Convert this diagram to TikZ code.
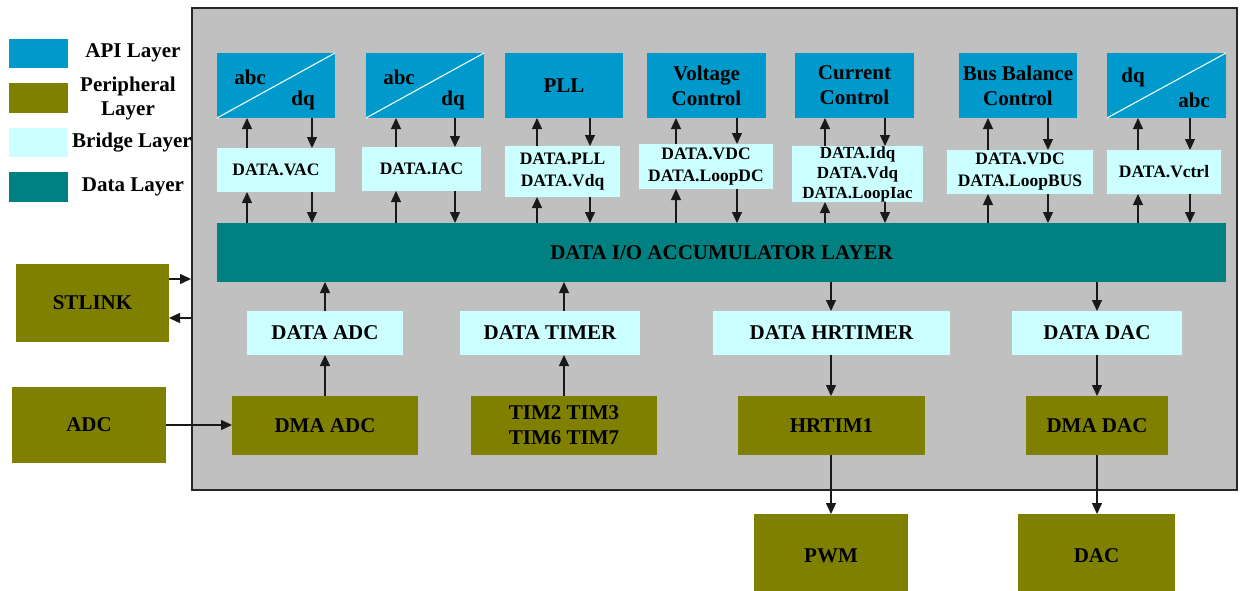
\documentclass[tikz,border=0pt]{standalone}
\usepackage{fontspec}
\setmainfont{Liberation Serif}
\usetikzlibrary{arrows.meta}
\definecolor{apiblue}{HTML}{0099CC}
\definecolor{periph}{HTML}{808000}
\definecolor{bridge}{HTML}{CCFFFF}
\definecolor{datal}{HTML}{008080}
\definecolor{boardgray}{HTML}{C0C0C0}
\definecolor{diagline}{HTML}{E2F6FF}
\begin{document}
\begin{tikzpicture}[x=1pt,y=-1pt,
  big/.style={font=\bfseries\fontsize{21}{25}\selectfont},
  small/.style={font=\bfseries\fontsize{17.5}{22}\selectfont},
  blk/.style={inner sep=0pt, outer sep=0pt, align=center, draw=none},
  api/.style={blk, big, fill=apiblue},
  periphbox/.style={blk, big, fill=periph},
  bridgebox/.style={blk, small, fill=bridge},
  bridgebig/.style={blk, big, fill=bridge},
  databox/.style={blk, big, fill=datal},
  txt/.style={inner sep=0pt, big},
  diag/.style={draw=diagline, line width=1.2pt},
  arr/.style={-{Triangle[length=11pt,width=10pt]}, line width=1.3pt, draw=black!90}]
\useasboundingbox (0,0) rectangle (1245,590);
\clip (0,0) rectangle (1245,590);

% main board
\node[draw=black!85, line width=2pt, fill=boardgray, minimum width=1045pt, minimum height=482pt, inner sep=0pt] (board) at (714.5,249) {};

% legend
\node[blk, fill=apiblue, minimum width=59pt, minimum height=29pt] (lg1) at (38.5,53.5) {};
\node[blk, fill=periph, minimum width=59pt, minimum height=30pt] (lg2) at (38.5,98) {};
\node[blk, fill=bridge, minimum width=59pt, minimum height=29pt] (lg3) at (38.5,142.5) {};
\node[blk, fill=datal, minimum width=59pt, minimum height=30pt] (lg4) at (38.5,187) {};
\node[txt] (lt1) at (133,53) {API Layer};
\node[txt, align=center, font=\bfseries\fontsize{21}{24}\selectfont] (lt2) at (128,98) {Peripheral\\Layer};
\node[txt] (lt3) at (132,143) {Bridge Layer};
\node[txt] (lt4) at (133,187) {Data Layer};

% API layer
\node[api, minimum width=118pt, minimum height=65pt] (a1) at (276,85.5) {};
\node[api, minimum width=118pt, minimum height=65pt] (a2) at (425,85.5) {};
\node[api, minimum width=118pt, minimum height=65pt] (a3) at (564,85.5) {PLL};
\node[api, minimum width=119pt, minimum height=65pt] (a4) at (706.5,85.5) {Voltage\\Control};
\node[api, minimum width=119pt, minimum height=65pt] (a5) at (854.5,85.5) {Current\\Control};
\node[api, minimum width=118pt, minimum height=65pt] (a6) at (1018,85.5) {Bus Balance\\Control};
\node[api, minimum width=119pt, minimum height=65pt] (a7) at (1166.5,85.5) {};
\draw[diag] (a1.south west) -- (a1.north east);
\draw[diag] (a2.south west) -- (a2.north east);
\draw[diag] (a7.south west) -- (a7.north east);
\node[txt] (a1x) at (250,77) {abc};
\node[txt] (a1y) at (303,100) {dq};
\node[txt] (a2x) at (399,77) {abc};
\node[txt] (a2y) at (453,100) {dq};
\node[txt] (a7x) at (1133,77) {dq};
\node[txt] (a7y) at (1194,100) {abc};

% bridge layer (upper)
\node[bridgebox, minimum width=118pt, minimum height=44pt] (b1) at (276,170) {DATA.VAC};
\node[bridgebox, minimum width=119pt, minimum height=44pt] (b2) at (421.5,169) {DATA.IAC};
\node[bridgebox, minimum width=115pt, minimum height=51pt] (b3) at (562.5,171.5) {DATA.PLL\\DATA.Vdq};
\node[bridgebox, minimum width=134pt, minimum height=45pt] (b4) at (706,166.5) {DATA.VDC\\DATA.LoopDC};
\node[bridgebox, minimum width=131pt, minimum height=56pt, font=\bfseries\fontsize{17}{20}\selectfont] (b5) at (857.5,174) {DATA.Idq\\DATA.Vdq\\DATA.LoopIac};
\node[bridgebox, minimum width=146pt, minimum height=44pt] (b6) at (1020,172) {DATA.VDC\\DATA.LoopBUS};
\node[bridgebox, minimum width=114pt, minimum height=44pt] (b7) at (1164,172) {DATA.Vctrl};

% data layer
\node[databox, minimum width=1009pt, minimum height=59pt] (dl) at (721.5,252.5) {DATA I/O ACCUMULATOR LAYER};

% bridge layer (lower)
\node[bridgebig, minimum width=156pt, minimum height=44pt] (d1) at (325,333) {DATA ADC};
\node[bridgebig, minimum width=180pt, minimum height=44pt] (d2) at (550,333) {DATA TIMER};
\node[bridgebig, minimum width=237pt, minimum height=44pt] (d3) at (831.5,333) {DATA HRTIMER};
\node[bridgebig, minimum width=170pt, minimum height=44pt] (d4) at (1097,333) {DATA DAC};

% peripheral layer (on board)
\node[periphbox, minimum width=186pt, minimum height=59pt] (p1) at (325,425.5) {DMA ADC};
\node[periphbox, minimum width=186pt, minimum height=59pt] (p2) at (564,425.5) {TIM2 TIM3\\TIM6 TIM7};
\node[periphbox, minimum width=187pt, minimum height=59pt] (p3) at (831.5,425.5) {HRTIM1};
\node[periphbox, minimum width=142pt, minimum height=59pt] (p4) at (1097,425.5) {DMA DAC};

% peripherals outside the board
\node[periphbox, minimum width=153pt, minimum height=78pt] (stl) at (92.5,303) {STLINK};
\node[periphbox, minimum width=154pt, minimum height=76pt] (adc) at (89,425) {ADC};
\node[periphbox, minimum width=154pt, minimum height=84pt] (pwm) at (831,556) {PWM};
\node[periphbox, minimum width=157pt, minimum height=84pt] (dac) at (1096.5,556) {DAC};

% API <-> bridge <-> data links
\foreach \i/\u/\d in {1/247/312, 2/396/455, 3/537/590, 4/676/737, 5/825/885, 6/988/1048, 7/1138/1190} {
  \coordinate (up\i) at (\u,0);
  \coordinate (dn\i) at (\d,0);
  \draw[arr] (b\i.north -| up\i) -- (a\i.south -| up\i);
  \draw[arr] (a\i.south -| dn\i) -- (b\i.north -| dn\i);
  \draw[arr] (dl.north -| up\i) -- (b\i.south -| up\i);
  \draw[arr] (b\i.south -| dn\i) -- (dl.north -| dn\i);
}

% input path
\coordinate (cadc) at (325,0);
\coordinate (ctim) at (564,0);
\draw[arr] (p1.north -| cadc) -- (d1.south -| cadc);
\draw[arr] (d1.north -| cadc) -- (dl.south -| cadc);
\draw[arr] (p2.north -| ctim) -- (d2.south -| ctim);
\draw[arr] (d2.north -| ctim) -- (dl.south -| ctim);
\draw[arr] (adc.east) -- (p1.west |- adc.east);

% output path
\coordinate (chr) at (831,0);
\coordinate (cdac) at (1097,0);
\draw[arr] (dl.south -| chr) -- (d3.north -| chr);
\draw[arr] (d3.south -| chr) -- (p3.north -| chr);
\draw[arr] (p3.south -| chr) -- (pwm.north -| chr);
\draw[arr] (dl.south -| cdac) -- (d4.north -| cdac);
\draw[arr] (d4.south -| cdac) -- (p4.north -| cdac);
\draw[arr] (p4.south -| cdac) -- (dac.north -| cdac);

% debug link
\coordinate (sl1) at (0,279);
\coordinate (sl2) at (0,318);
\draw[arr] (stl.east |- sl1) -- (board.west |- sl1);
\draw[arr] (board.west |- sl2) -- (stl.east |- sl2);
\end{tikzpicture}
\end{document}
